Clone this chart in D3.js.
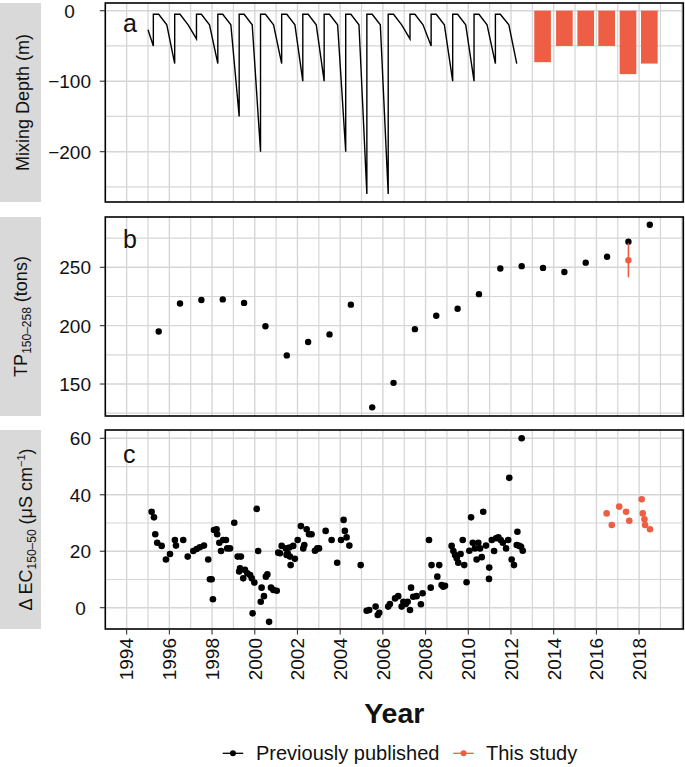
<!DOCTYPE html>
<html><head><meta charset="utf-8">
<script src="https://cdn.jsdelivr.net/npm/d3@7"></script>
<style>
body{margin:0;background:#fff}
svg{display:block}
text{font-family:"Liberation Sans",Arial,Helvetica,sans-serif;fill:#111}
</style>
</head><body>
<svg id="chart" width="685" height="767"></svg>
<script>
// ---------------- DATA ----------------
const xTickYears = [1994,1996,1998,2000,2002,2004,2006,2008,2010,2012,2014,2016,2018];
const xMinorYears = [1993,1995,1997,1999,2001,2003,2005,2007,2009,2011,2013,2015,2017,2019];
const xGridMajor = [1994,1996,1998,2000,2002,2004,2006,2008,2010,2012,2014,2016,2018,2020];

// panel a : mixing depth (previously published line)
const mixDates = [1995.00,1995.25,1995.25,1995.50,1995.88,
  1996.25,1996.25,1996.50,1996.88, 1997.27,1997.27,1997.50,1997.88,
  1998.27,1998.27,1998.50,1998.88, 1999.27,1999.27,1999.50,1999.88,
  2000.27,2000.27,2000.50,2000.88, 2001.26,2001.26,2001.50,2001.88,
  2002.25,2002.25,2002.50,2002.88, 2003.25,2003.25,2003.50,2003.88,
  2004.26,2004.26,2004.50,2004.88, 2005.25,2005.25,2005.50,2005.88,
  2006.25,2006.25,2006.50,2006.88, 2007.27,2007.27,2007.50,2007.88,
  2008.26,2008.26,2008.50,2008.88, 2009.27,2009.27,2009.50,2009.88,
  2010.27,2010.27,2010.50,2010.88, 2011.27,2011.27,2011.50,2011.90,
  2012.27];
const mixDepths = [-27,-50,-5,-5,-20,
  -75,-5,-5,-20, -40,-5,-5,-20,
  -75,-5,-5,-20, -150,-5,-5,-20,
  -200,-5,-5,-20, -75,-5,-5,-20,
  -100,-5,-5,-20, -100,-5,-5,-20,
  -200,-5,-5,-20, -260,-5,-5,-20,
  -260,-5,-5,-20, -40,-5,-5,-20,
  -50,-5,-5,-20, -100,-5,-5,-20,
  -100,-5,-5,-20, -75,-5,-5,-20,
  -75];
// panel a : this study bars
const barYears = [2013.48,2014.50,2015.50,2016.48,2017.48,2018.48];
const barDepths = [-73,-50,-50,-50,-90,-75];
const yTicksA = [0,-100,-200];
const yMinorA = [-50,-150,-250];

// panel b : TP
const tpYears = [1995.5,1996.5,1997.5,1998.5,1999.5,2000.5,2001.5,2002.5,2003.5,2004.5,2005.5,2006.5,
  2007.5,2008.5,2009.5,2010.5,2011.5,2012.5,2013.5,2014.5,2015.5,2016.5,2017.5,2018.5];
const tpValues = [195,219,222,222.5,219.5,199.5,174.5,186,192.5,218,130,151,
  197,208.5,214.5,227,249,251,249.5,246,254,259,272,286.5];
const tpStudyYears = [2017.5];
const tpStudyValues = [256];
const tpStudyLow = [241.5];
const tpStudyHigh = [270.6];
const yTicksB = [150,200,250];
const yMinorB = [125,175,225,275];

// panel c : delta EC
const ecDates = [1995.17,1995.28,1995.34,1995.43,1995.64,1995.84,1996.03,1996.26,1996.31,1996.65,1996.86,
  1997.12,1997.28,1997.43,1997.62,1997.82,1997.90,1997.98,1998.04,1998.09,1998.21,1998.24,1998.34,1998.42,
  1998.52,1998.65,1998.71,1998.84,1999.04,1999.20,1999.35,1999.31,1999.27,1999.54,1999.46,1999.65,1999.78,
  1999.86,1999.98,1999.90,2000.09,2000.16,2000.32,2000.28,2000.43,2000.52,2000.59,2000.67,2000.76,2000.87,
  2001.03,2001.10,2001.18,2001.26,2001.46,2001.49,2001.54,2001.62,2001.65,2001.68,2001.80,2001.88,2002.01,
  2002.16,2002.27,2002.32,2002.43,2002.54,2002.66,2002.82,2002.93,2003.01,2003.32,2003.60,2003.86,2004.04,
  2004.16,2004.22,2004.30,2004.43,2004.96,2005.24,2005.36,2005.66,2005.76,2005.83,2006.25,2006.33,2006.57,
  2006.72,2006.88,2006.96,2007.07,2007.16,2007.27,2007.32,2007.42,2007.58,2007.78,2007.86,2008.16,2008.24,
  2008.28,2008.55,2008.64,2008.75,2008.83,2008.91,2009.22,2009.30,2009.38,2009.46,2009.53,2009.64,2009.74,
  2009.81,2009.92,2010.05,2010.13,2010.21,2010.31,2010.39,2010.47,2010.55,2010.63,2010.70,2010.83,2010.98,
  2010.97,2011.10,2011.21,2011.30,2011.41,2011.52,2011.62,2011.77,2011.87,2011.92,2012.03,2012.14,2012.27,
  2012.30,2012.39,2012.47,2012.50,2012.55];
const ecValues = [34.0,32.0,26.0,23.0,21.9,17.1,19.0,24.0,22.0,24.0,18.1,
  20.1,20.8,21.4,22.0,17.1,10.1,10.1,3.0,27.5,27.8,26.0,23.0,20.1,
  24.0,24.0,21.0,21.0,30.1,18.1,18.1,14.0,12.8,13.4,10.4,12.2,11.6,
  10.4,8.9,-2.0,35.0,20.1,7.1,2.1,4.1,11.0,11.8,-5.0,7.1,6.3,
  6.0,19.5,19.3,21.9,21.0,18.7,19.3,21.3,18.1,15.1,21.9,17.3,24.0,
  28.9,21.0,22.2,27.8,26.0,26.0,20.2,21.0,21.0,27.2,24.0,15.9,24.0,
  31.1,27.2,24.9,22.0,15.1,-1.1,-0.8,0.4,-2.6,-1.8,0.4,1.3,3.3,
  4.1,0.4,2.1,1.3,2.1,-0.8,7.1,3.9,4.1,1.2,5.1,24.0,7.1,
  15.1,11.0,15.1,8.0,7.4,7.8,21.9,20.1,18.7,17.5,15.9,19.0,24.0,
  15.1,9.0,20.2,32.0,23.0,21.0,17.1,23.0,21.0,17.9,34.0,22.0,14.2,
  10.2,24.0,20.1,24.6,24.9,24.0,23.0,21.0,24.0,46.0,17.1,15.1,22.2,
  26.9,21.9,21.6,60.0,20.2];
const ecStudyDates = [2016.48,2016.72,2017.07,2017.39,2017.54,2018.12,2018.17,2018.25,2018.28,2018.51];
const ecStudyValues = [33.4,29.3,35.8,34.0,30.8,38.4,33.4,31.3,29.3,27.8];
const yTicksC = [0,20,40,60];
const yMinorC = [10,30,50];

const legendLabels = ["Previously published","This study"];

// ---------------- LAYOUT ----------------
const BLACK = "#000000", ORANGE = "#EE5E45", GRID = "#D6D6D6", STRIP = "#D9D9D9";
const L = 105.3, R = 683.3;
const svg = d3.select("#chart");
const x = d3.scaleLinear().domain([1993.0, 2020.07]).range([L, R]);

const panels = [
  {key:"a", top:3, bottom:202, domain:[-271.35,10.92], ticks:yTicksA, minor:yMinorA, label:"a", labelY:32},
  {key:"b", top:217, bottom:416, domain:[122.6,293.1], ticks:yTicksB, minor:yMinorB, label:"b", labelY:248},
  {key:"c", top:430, bottom:629, domain:[-7.54,62.94], ticks:yTicksC, minor:yMinorC, label:"c", labelY:463}
];
panels.forEach(p => { p.y = d3.scaleLinear().domain(p.domain).range([p.bottom, p.top]); });

const defs = svg.append("defs");
panels.forEach(p => {
  defs.append("clipPath").attr("id","clip-"+p.key).append("rect")
    .attr("x",L).attr("y",p.top).attr("width",R-L).attr("height",p.bottom-p.top);
});

panels.forEach(p => {
  const g = svg.append("g");
  g.append("rect").attr("x",0).attr("y",p.top).attr("width",41).attr("height",p.bottom-p.top).attr("fill",STRIP);
  const gg = g.append("g").attr("clip-path","url(#clip-"+p.key+")");
  gg.selectAll(".vmin").data(xMinorYears).join("line")
    .attr("x1",d=>x(d)).attr("x2",d=>x(d)).attr("y1",p.top).attr("y2",p.bottom)
    .attr("stroke",GRID).attr("stroke-width",1.2);
  gg.selectAll(".vmaj").data(xGridMajor).join("line")
    .attr("x1",d=>x(d)).attr("x2",d=>x(d)).attr("y1",p.top).attr("y2",p.bottom)
    .attr("stroke",GRID).attr("stroke-width",1.4);
  gg.selectAll(".hmin").data(p.minor).join("line")
    .attr("x1",L).attr("x2",R).attr("y1",d=>p.y(d)).attr("y2",d=>p.y(d))
    .attr("stroke",GRID).attr("stroke-width",1.2);
  gg.selectAll(".hmaj").data(p.ticks).join("line")
    .attr("x1",L).attr("x2",R).attr("y1",d=>p.y(d)).attr("y2",d=>p.y(d))
    .attr("stroke",GRID).attr("stroke-width",1.4);
  p.g = g; p.gg = gg;

  g.selectAll(".yt").data(p.ticks).join("line")
    .attr("x1",L-5.5).attr("x2",L).attr("y1",d=>p.y(d)).attr("y2",d=>p.y(d))
    .attr("stroke","#333").attr("stroke-width",1.1);
  const labs = g.selectAll(".yl").data(p.ticks).join("text")
    .attr("font-size",19).attr("text-anchor","middle").attr("dy","0.36em")
    .attr("y",d=>p.y(d)).text(d=>d3.format("d")(d).replace("-","\u2212"));
  let maxW = 0;
  labs.each(function(){ maxW = Math.max(maxW, this.getComputedTextLength()); });
  labs.attr("x", 91 - maxW/2);
});

// ---------------- PANEL A ----------------
const pa = panels[0];
pa.gg.selectAll(".bar").data(barYears).join("rect")
  .attr("x",(d)=>x(d-0.39)).attr("width",x(0.78)-x(0))
  .attr("y",pa.y(0)).attr("height",(d,i)=>pa.y(barDepths[i])-pa.y(0))
  .attr("fill",ORANGE);
const mixLine = d3.line().x(d=>x(mixDates[d])).y(d=>pa.y(mixDepths[d]));
pa.gg.append("path").datum(d3.range(mixDates.length)).attr("d",mixLine)
  .attr("fill","none").attr("stroke",BLACK).attr("stroke-width",1.4).attr("stroke-linejoin","miter");

// ---------------- PANEL B ----------------
const pb = panels[1];
pb.gg.selectAll(".tp").data(tpYears).join("circle")
  .attr("cx",d=>x(d)).attr("cy",(d,i)=>pb.y(tpValues[i])).attr("r",3.2).attr("fill",BLACK);
pb.gg.selectAll(".err").data(tpStudyYears).join("line")
  .attr("x1",d=>x(d)).attr("x2",d=>x(d))
  .attr("y1",(d,i)=>pb.y(tpStudyLow[i])).attr("y2",(d,i)=>pb.y(tpStudyHigh[i]))
  .attr("stroke",ORANGE).attr("stroke-width",1.6);
pb.gg.selectAll(".tps").data(tpStudyYears).join("circle")
  .attr("cx",d=>x(d)).attr("cy",(d,i)=>pb.y(tpStudyValues[i])).attr("r",3.2).attr("fill",ORANGE);

// ---------------- PANEL C ----------------
const pc = panels[2];
pc.gg.selectAll(".ec").data(ecDates).join("circle")
  .attr("cx",d=>x(d)).attr("cy",(d,i)=>pc.y(ecValues[i])).attr("r",3.3).attr("fill",BLACK);
pc.gg.selectAll(".ecs").data(ecStudyDates).join("circle")
  .attr("cx",d=>x(d)).attr("cy",(d,i)=>pc.y(ecStudyValues[i])).attr("r",3.3).attr("fill",ORANGE);

panels.forEach(p => {
  svg.append("rect").attr("x",L).attr("y",p.top).attr("width",R-L).attr("height",p.bottom-p.top)
    .attr("fill","none").attr("stroke",BLACK).attr("stroke-width",1.6);
  svg.append("text").attr("x",123).attr("y",p.labelY).attr("font-size",25).text(p.label);
});

function stripText(p, bx, parts){
  const cy = (p.top+p.bottom)/2;
  const t = svg.append("text").attr("transform",`translate(${bx},${cy}) rotate(-90)`)
    .attr("text-anchor","middle").attr("font-size",18);
  parts.forEach(q => {
    const s = t.append("tspan").text(q.t);
    if (q.fs) s.attr("font-size", q.fs);
    if (q.bs) s.attr("baseline-shift", q.bs);
  });
}
stripText(panels[0], 28.5, [{t:"Mixing Depth (m)"}]);
stripText(panels[1], 26.5, [{t:"TP"},{t:"150\u2013258",fs:12,bs:"-4"},{t:" (tons)"}]);
stripText(panels[2], 31.5, [{t:"\u0394 EC"},{t:"150\u201350",fs:12,bs:"-4"},{t:" (\u03bcS cm"},{t:"\u22121",fs:11,bs:"7"},{t:")"}]);

const xb = pc.bottom;
svg.selectAll(".xt").data(xTickYears).join("line")
  .attr("x1",d=>x(d)).attr("x2",d=>x(d)).attr("y1",xb).attr("y2",xb+5.5)
  .attr("stroke","#333").attr("stroke-width",1.1);
svg.selectAll(".xl").data(xTickYears).join("text")
  .attr("transform",d=>`translate(${x(d)},${xb+9}) rotate(-90)`)
  .attr("text-anchor","end").attr("dy","0.36em").attr("font-size",19).text(d=>d);
svg.append("text").attr("x",(L+R)/2).attr("y",723).attr("text-anchor","middle")
  .attr("font-size",28.5).attr("font-weight","bold").text("Year");

const legendItems = [
  {label:legendLabels[0], color:BLACK, x0:222.7, tx:256},
  {label:legendLabels[1], color:ORANGE, x0:453.3, tx:486}
];
const ly = 753.3;
legendItems.forEach(it => {
  svg.append("line").attr("x1",it.x0).attr("x2",it.x0+20.5).attr("y1",ly).attr("y2",ly)
    .attr("stroke",it.color).attr("stroke-width",1.3);
  svg.append("circle").attr("cx",it.x0+10.25).attr("cy",ly).attr("r",3).attr("fill",it.color);
  svg.append("text").attr("x",it.tx).attr("y",ly+6.8).attr("font-size",20).text(it.label);
});
</script>
</body></html>
